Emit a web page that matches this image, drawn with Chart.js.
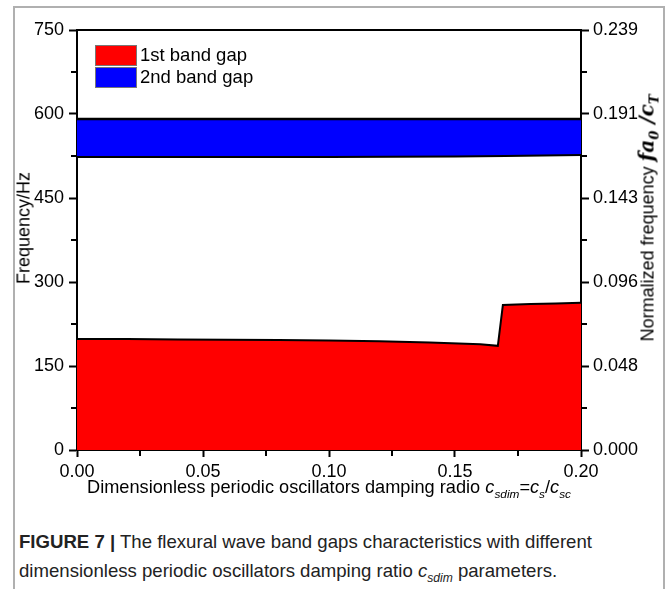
<!DOCTYPE html>
<html lang="en">
<head>
    <meta charset="UTF-8">
    <title>Figure 7 - flexural wave band gaps</title>
    <style>
        body {
            margin: 0;
            width: 668px;
            height: 589px;
            position: relative;
            overflow: hidden;
            background: #ffffff;
            font-family: "Liberation Sans", Arial, sans-serif;
            color: #000;
        }
        .frame {
            position: absolute;
            left: 13px;
            top: 6px;
            width: 648px;
            height: 600px;
            border-left: 2px solid #b0b0b0;
            border-top: 2px solid #b0b0b0;
            border-right: 2px solid #b0b0b0;
        }
        #chart {
            position: absolute;
            left: 0;
            top: 0;
        }
        .legend {
            position: absolute;
            left: 95px;
            top: 45px;
            font-size: 18.5px;
        }
        .legend div {
            height: 22px;
            line-height: 20px;
            white-space: nowrap;
        }
        .legend span {
            display: inline-block;
            width: 40px;
            height: 19px;
            border: 1px solid #777;
            vertical-align: top;
            margin-right: 3px;
        }
        .xtitle {
            position: absolute;
            left: 0;
            width: 658px;
            top: 477px;
            text-align: center;
            font-size: 18.2px;
            white-space: nowrap;
        }
        .ytitle, .y2title {
            position: absolute;
            font-size: 18px;
            white-space: nowrap;
            transform: translate(-50%, -50%) rotate(-90deg);
        }
        .ytitle { left: 24px; top: 228px; }
        .y2title { left: 648px; top: 218px; }
        .math {
            font-family: "DejaVu Serif", "Liberation Serif", serif;
            font-weight: bold;
            font-style: italic;
            font-size: 20px;
        }
        sub { font-size: 65%; }
        .caption {
            position: absolute;
            left: 19px;
            top: 527px;
            font-size: 18.6px;
            line-height: 29px;
            color: #222;
            white-space: nowrap;
        }
    </style>
</head>
<body>
    <div class="frame"></div>
    <canvas id="chart" width="668" height="500"></canvas>

    <div class="legend">
        <div><span style="background:#ff0000"></span>1st band gap</div>
        <div><span style="background:#0000ff"></span>2nd band gap</div>
    </div>
    <div class="ytitle">Frequency/Hz</div>
    <div class="y2title">Normalized frequency <span class="math">fa<sub>0</sub> /c<sub>T</sub></span></div>
    <div class="xtitle">Dimensionless periodic oscillators damping radio <i>c<sub>sdim</sub></i>=<i>c<sub>s</sub></i>/<i>c<sub>sc</sub></i></div>
    <div class="caption">
        <b>FIGURE 7 |</b> The flexural wave band gaps characteristics with different<br>
        dimensionless periodic oscillators damping ratio <i>c<sub>sdim</sub></i> parameters.
    </div>

    <script src="https://cdn.jsdelivr.net/npm/chart.js"></script>
    <script>
        // damping ratio values (x) and band gap edges in Hz
        const gap1X = [0, 0.02, 0.04, 0.06, 0.08, 0.10, 0.12, 0.14, 0.16, 0.167, 0.169, 0.18, 0.19, 0.20];
        const gap1Upper = [198, 198, 197.5, 197, 196.5, 195.5, 194, 192, 189, 186, 259, 260.5, 261.5, 263];

        const gap2X = [0, 0.05, 0.10, 0.15, 0.17, 0.20];
        const gap2Lower = [523, 523, 523, 524, 525, 527];
        const gap2Upper = [591, 591, 591, 591, 591, 591];

        const xTicks = [0, 0.05, 0.10, 0.15, 0.20];
        const yTicks = [0, 150, 300, 450, 600, 750];
        const y2TickLabels = ['0.000', '0.048', '0.096', '0.143', '0.191', '0.239'];

        const pts = (xs, ys) => xs.map((x, i) => ({ x: x, y: ys[i] }));

        const tickFont = { family: '"Liberation Sans", Arial, sans-serif', size: 18 };

        // minor ticks + top frame line
        const extras = {
            id: 'extras',
            afterDraw(chart) {
                const ctx = chart.ctx;
                const a = chart.chartArea;
                const sx = chart.scales.x, sy = chart.scales.y;
                ctx.save();
                ctx.strokeStyle = '#000';
                ctx.lineWidth = 2;
                ctx.beginPath();
                ctx.moveTo(a.left - 1, a.top);
                ctx.lineTo(a.right + 1, a.top);
                for (let i = 0; i < xTicks.length - 1; i++) {
                    const px = sx.getPixelForValue((xTicks[i] + xTicks[i + 1]) / 2);
                    ctx.moveTo(px, a.bottom);
                    ctx.lineTo(px, a.bottom + 6);
                }
                for (let i = 0; i < yTicks.length - 1; i++) {
                    const py = sy.getPixelForValue((yTicks[i] + yTicks[i + 1]) / 2);
                    ctx.moveTo(a.left, py);
                    ctx.lineTo(a.left - 6, py);
                    ctx.moveTo(a.right, py);
                    ctx.lineTo(a.right + 6, py);
                }
                ctx.stroke();
                ctx.restore();
            }
        };

        new Chart(document.getElementById('chart'), {
            type: 'line',
            data: {
                datasets: [
                    {
                        label: '1st band gap',
                        data: pts(gap1X, gap1Upper),
                        borderColor: '#000',
                        borderWidth: 2,
                        backgroundColor: '#ff0000',
                        fill: 'origin'
                    },
                    {
                        label: '2nd band gap lower',
                        data: pts(gap2X, gap2Lower),
                        borderColor: '#000',
                        borderWidth: 2,
                        fill: false
                    },
                    {
                        label: '2nd band gap',
                        data: pts(gap2X, gap2Upper),
                        borderColor: '#000',
                        borderWidth: 2.5,
                        backgroundColor: '#0000ff',
                        fill: '-1'
                    }
                ]
            },
            options: {
                responsive: false,
                animation: false,
                devicePixelRatio: 1,
                layout: { padding: { top: 30, left: 0, right: 0, bottom: 0 } },
                elements: { point: { radius: 0 }, line: { tension: 0 } },
                plugins: {
                    legend: { display: false },
                    tooltip: { enabled: false }
                },
                scales: {
                    x: {
                        type: 'linear',
                        min: 0,
                        max: 0.2,
                        afterBuildTicks: s => { s.ticks = xTicks.map(v => ({ value: v })); },
                        afterFit: s => { s.height = 50; },
                        ticks: {
                            font: tickFont,
                            color: '#000',
                            padding: 4,
                            callback: v => v.toFixed(2)
                        },
                        grid: { drawOnChartArea: false, tickLength: 7, tickColor: '#000', tickWidth: 2 },
                        border: { color: '#000', width: 2 }
                    },
                    y: {
                        position: 'left',
                        min: 0,
                        max: 750,
                        afterBuildTicks: s => { s.ticks = yTicks.map(v => ({ value: v })); },
                        afterFit: s => { s.width = 77; },
                        ticks: { font: tickFont, color: '#000', padding: 5 },
                        grid: { drawOnChartArea: false, tickLength: 8, tickColor: '#000', tickWidth: 2 },
                        border: { color: '#000', width: 2 }
                    },
                    y2: {
                        position: 'right',
                        min: 0,
                        max: 750,
                        afterBuildTicks: s => { s.ticks = yTicks.map(v => ({ value: v })); },
                        afterFit: s => { s.width = 87; },
                        ticks: {
                            font: tickFont,
                            color: '#000',
                            padding: 4,
                            callback: (v, i) => y2TickLabels[i]
                        },
                        grid: { drawOnChartArea: false, tickLength: 8, tickColor: '#000', tickWidth: 2 },
                        border: { color: '#000', width: 2 }
                    }
                }
            },
            plugins: [extras]
        });
    </script>
</body>
</html>
